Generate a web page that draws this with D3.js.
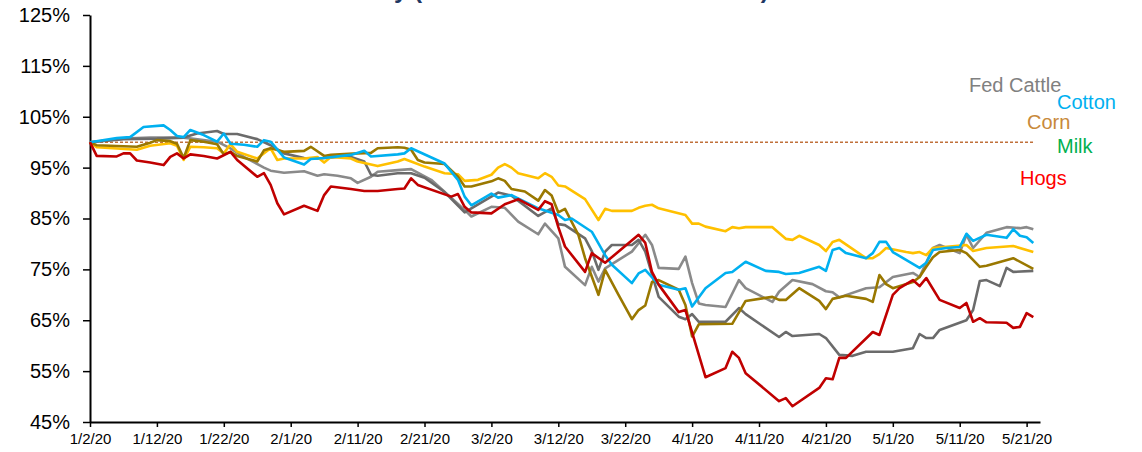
<!DOCTYPE html>
<html><head><meta charset="utf-8">
<script src="https://cdn.jsdelivr.net/npm/d3@7"></script>
<style>
body{margin:0;background:#fff;}
svg text{font-family:Arial,"Liberation Sans",sans-serif;}
</style>
</head><body>
<svg id="chart" width="1142" height="452"></svg>
<script>
// ---- data (day offset from 1/2/20, % of 1/2/20 price) ----
const startDate = "1/2/20";
const endDate = "5/23/20";
const tickLabels = ["1/2/20","1/12/20","1/22/20","2/1/20","2/11/20","2/21/20","3/2/20","3/12/20","3/22/20","4/1/20","4/11/20","4/21/20","5/1/20","5/11/20","5/21/20"];
const yTicks = [45,55,65,75,85,95,105,115,125];
const baseline = 100;

const fedCattle = [[0,100],[5,100.7],[9,100.9],[14,100.9],[19,100.1],[21,98.8],[23,97.1],[26,95.0],[27,94.4],[29,94.0],[32,94.3],[34,93.4],[35,93.7],[37,93.4],[39,92.9],[40,92.0],[42,93.2],[43,94.2],[46,94.5],[48,94.7],[51,92.6],[56,86.7],[57,85.4],[60,87.3],[62,87.1],[64,84.4],[67,81.9],[68,84.0],[70,81.1],[71,75.5],[74,71.9],[75,75.5],[76,72.6],[77,75.2],[81,78.5],[83,81.8],[84,79.8],[85,75.3],[88,75.1],[89,77.5],[90,72.3],[91,68.3],[92,68.0],[95,67.6],[97,72.9],[98,71.3],[102,68.6],[103,70.6],[105,72.9],[108,72.1],[110,70.7],[111,70.5],[112,69.5],[116,71.3],[118,71.5],[120,73.5],[123,74.3],[124,73.5],[126,79.2],[127,79.8],[130,78.2],[131,81.8],[132,79.2],[134,82.2],[137,83.3],[139,83.1],[140,83.3],[141,82.9]];

const darkGray = [[0,100],[5,100.6],[10,100.7],[14,100.9],[16,101.7],[19,102.2],[20,101.6],[22,101.6],[25,100.6],[27,99.4],[29,97.8],[32,96.9],[34,96.8],[37,97.1],[39,97.1],[41,96.2],[42,93.6],[43,93.4],[46,93.9],[48,93.9],[50,93.0],[53,90.2],[56,86.2],[57,87.0],[61,90.1],[63,89.5],[67,85.5],[69,87.0],[70,83.9],[71,83.7],[74,81.1],[75,78.6],[76,74.9],[77,78.5],[78,79.8],[81,79.8],[82,80.8],[83,78.5],[85,69.6],[88,65.7],[89,65.2],[90,66.2],[91,64.7],[95,64.7],[97,67.4],[98,66.2],[103,61.7],[104,62.7],[105,61.9],[109,62.3],[110,61.5],[112,58.2],[114,58.0],[116,58.8],[120,58.8],[123,59.5],[124,62.3],[125,61.5],[126,61.5],[127,63.1],[131,65.0],[132,67.0],[133,72.7],[134,72.9],[136,71.7],[137,75.3],[138,74.5],[141,74.7]];

const cotton = [[0,100],[4,100.8],[6,101.0],[8,103.0],[11,103.3],[12,102.4],[13,101.2],[14,101.0],[15,102.4],[17,101.4],[19,100.1],[20,101.7],[21,99.7],[23,99.5],[25,99.1],[26,100.4],[27,100.1],[29,97.0],[32,95.6],[33,96.7],[35,96.9],[39,97.5],[41,98.3],[42,97.2],[46,97.6],[47,97.8],[48,98.8],[53,95.8],[55,92.6],[56,89.3],[57,87.6],[60,89.9],[61,89.1],[63,89.6],[67,87.0],[70,85.7],[71,84.7],[72,85.0],[75,82.4],[77,77.8],[78,75.9],[81,72.3],[82,74.2],[83,74.9],[85,72.0],[88,71.0],[89,71.3],[90,67.7],[92,71.3],[95,74.3],[96,74.5],[98,76.5],[101,74.7],[103,74.5],[104,74.1],[106,74.3],[109,75.5],[110,74.7],[111,78.8],[112,79.2],[113,78.2],[116,77.2],[117,78.2],[118,80.4],[119,80.4],[120,78.4],[124,75.3],[125,76.3],[126,78.8],[128,79.2],[130,79.4],[131,82.0],[132,80.6],[134,81.8],[137,81.2],[138,82.9],[139,81.6],[140,81.3],[141,80.2]];

const corn = [[0,100],[1,99.4],[7,99.1],[9,99.9],[10,100.4],[12,100.2],[13,99.7],[14,96.9],[15,100.4],[17,100.1],[19,99.6],[20,97.6],[21,98.1],[22,97.3],[25,96.2],[26,98.4],[27,98.8],[29,98.1],[32,98.3],[33,99.1],[35,97.3],[36,97.5],[40,97.8],[42,97.9],[43,98.8],[46,99.0],[47,98.9],[48,98.5],[49,96.5],[50,96.0],[53,95.7],[55,93.2],[56,91.3],[57,91.3],[60,92.3],[61,92.9],[62,92.4],[63,90.8],[65,90.3],[67,88.5],[68,90.6],[69,89.5],[70,86.2],[71,86.9],[73,81.8],[74,77.2],[76,70.0],[77,74.9],[79,70.0],[81,65.2],[82,67.0],[83,67.9],[84,72.5],[85,72.9],[88,71.0],[89,68.0],[90,61.8],[91,64.2],[96,64.3],[98,68.8],[102,69.6],[103,69.0],[104,69.0],[106,71.3],[109,68.8],[110,67.2],[111,69.2],[113,69.8],[116,69.2],[117,68.6],[118,73.9],[119,72.1],[120,71.3],[123,72.5],[124,73.5],[125,75.5],[126,77.4],[127,78.4],[130,78.8],[131,78.2],[133,75.5],[134,75.7],[138,77.2],[141,75.1]];

const milk = [[0,100],[1,99.0],[7,98.5],[9,99.3],[12,99.8],[13,99.3],[14,96.5],[15,99.1],[17,99.0],[19,98.8],[20,97.8],[21,99.6],[22,98.1],[25,96.8],[27,98.8],[28,96.5],[29,96.8],[32,96.8],[34,97.1],[35,96.0],[36,97.1],[39,96.8],[40,96.2],[43,95.3],[46,96.2],[47,96.7],[48,96.2],[50,95.2],[53,93.9],[55,93.7],[56,92.4],[58,92.6],[60,93.6],[61,95.0],[62,95.7],[63,95.0],[64,93.9],[67,92.9],[68,93.9],[69,93.2],[70,91.5],[71,91.3],[74,88.8],[76,84.7],[77,86.9],[78,86.5],[81,86.5],[82,87.1],[83,87.5],[84,87.7],[85,87.0],[89,85.7],[90,84.0],[91,84.0],[92,83.4],[95,82.5],[96,83.3],[97,83.1],[98,83.3],[102,83.3],[104,81.0],[105,80.8],[106,81.6],[109,79.8],[110,78.6],[111,80.4],[112,80.8],[116,77.2],[117,77.2],[118,78.0],[119,79.2],[122,78.4],[123,78.2],[124,78.4],[125,77.8],[126,79.2],[131,79.8],[132,78.6],[134,79.2],[138,79.6],[141,78.4]];

const hogs = [[0,100],[1,97.3],[4,97.2],[5,97.8],[6,97.8],[7,96.4],[9,96.0],[11,95.5],[12,97.1],[13,97.8],[14,96.8],[15,97.6],[17,97.3],[19,96.8],[21,98.1],[22,96.5],[25,93.2],[26,93.9],[27,91.6],[28,88.0],[29,85.8],[32,87.5],[34,86.5],[35,89.6],[36,91.3],[39,90.8],[41,90.4],[43,90.4],[46,90.8],[47,90.9],[48,92.9],[49,91.6],[54,89.3],[55,89.8],[56,87.3],[57,86.2],[60,86.0],[62,87.8],[64,88.8],[67,86.7],[68,88.4],[69,87.8],[70,83.3],[71,79.5],[74,74.5],[75,78.2],[77,76.3],[82,81.8],[83,80.2],[84,74.5],[85,72.0],[88,66.6],[89,67.0],[92,53.8],[95,55.6],[96,58.8],[97,57.6],[98,54.6],[103,49.1],[104,49.7],[105,48.1],[109,51.7],[110,53.6],[111,53.4],[112,57.6],[113,57.6],[117,62.7],[118,62.1],[120,70.0],[121,71.3],[123,72.9],[124,71.7],[125,73.3],[127,69.0],[130,67.4],[131,68.4],[132,64.7],[133,65.4],[134,64.6],[137,64.5],[138,63.5],[139,63.7],[140,66.4],[141,65.6]];

const seriesData = [fedCattle, darkGray, milk, corn, cotton, hogs];
const seriesColors = ["#8a8a8a", "#6b6b6b", "#ffc000", "#9a7800", "#00b0f0", "#c00000"];

const labelNames = ["Fed Cattle","Cotton","Corn","Milk","Hogs"];
const labelColors = ["#808080","#00b0f0","#c8893a","#00b050","#ff0000"];

const titleText = "Futures Prices Daily (Indexed to 1 Jan 2020 = 100%)";

// ---- drawing ----
const svg = d3.select("#chart");
const parse = d3.timeParse("%m/%d/%y");
const fmt = d3.timeFormat("%-m/%-d/%y");
const t0 = parse(startDate);
const toDate = d => d3.timeDay.offset(t0, d);

const x = d3.scaleTime().domain([t0, parse(endDate)]).range([90, 1040]);
const y = d3.scaleLinear().domain([45, 125]).range([422, 15]);

// title: sits above the frame, only its descenders show (as in the reference)
const title = svg.append("text").attr("x", 0).attr("y", -2)
  .attr("font-size", 26).attr("font-weight", "bold").attr("fill", "#1f3864").text(titleText);
(function placeTitle() {
  const node = title.node();
  const iOpen = titleText.indexOf("("), iClose = titleText.lastIndexOf(")");
  const span = node.getEndPositionOfChar(iClose).x - node.getStartPositionOfChar(iOpen).x;
  const fs = 26 * 355 / span;
  title.attr("font-size", fs).attr("y", 3 - 0.21 * fs);
  const xo = node.getStartPositionOfChar(iOpen).x;
  title.attr("x", 414 - xo);
})();

// y axis
const gy = svg.append("g").attr("transform", "translate(90,0)")
  .call(d3.axisLeft(y).tickValues(yTicks).tickFormat(d => d + "%").tickSize(7).tickSizeOuter(0).tickPadding(13));
gy.selectAll("text").attr("font-size", 20).attr("fill", "#000");
gy.selectAll("line").attr("stroke", "#000").attr("stroke-width", 1.5);
gy.select(".domain").attr("stroke", "#000").attr("stroke-width", 2);

// x axis
const gx = svg.append("g").attr("transform", "translate(0,422)")
  .call(d3.axisBottom(x).tickValues(tickLabels.map(parse)).tickFormat(fmt).tickSize(5).tickSizeOuter(0).tickPadding(6));
gx.selectAll("text").attr("font-size", 15).attr("fill", "#000");
gx.selectAll("line").attr("stroke", "#000").attr("stroke-width", 1.5);
gx.select(".domain").attr("stroke", "#000").attr("stroke-width", 2);

// 100% reference line
svg.append("line").attr("x1", x(t0)).attr("x2", 1035).attr("y1", y(baseline)).attr("y2", y(baseline))
  .attr("stroke", "#c0703a").attr("stroke-width", 1.5).attr("stroke-dasharray", "3,2");

// series lines
const line = d3.line().x(d => x(toDate(d[0]))).y(d => y(d[1]));
seriesData.forEach((s, i) => {
  svg.append("path").datum(s).attr("d", line).attr("fill", "none")
    .attr("stroke", seriesColors[i]).attr("stroke-width", 2.6).attr("stroke-linejoin", "round");
});

// labels
const labelPos = [[969, 92], [1057, 109], [1027, 129], [1057, 153], [1020, 185]];
labelNames.forEach((n, i) => {
  svg.append("text").attr("x", labelPos[i][0]).attr("y", labelPos[i][1])
    .attr("font-size", 20).attr("fill", labelColors[i]).text(n);
});
</script>
</body></html>
